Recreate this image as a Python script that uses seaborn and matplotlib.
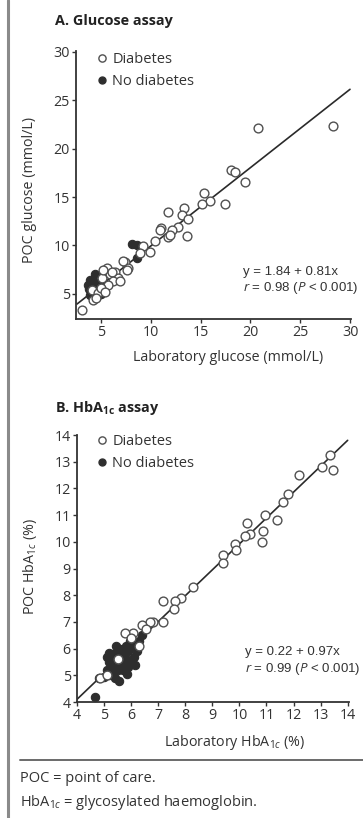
import matplotlib
matplotlib.use("Agg")
import matplotlib.pyplot as plt
from matplotlib.lines import Line2D
import seaborn as sns
import pandas as pd
import numpy as np

sns.set_theme(style="white")
plt.rcParams['font.family'] = ['Open Sans', 'DejaVu Sans']
plt.rcParams['mathtext.fontset'] = 'custom'
plt.rcParams['mathtext.rm'] = 'Open Sans'
plt.rcParams['mathtext.it'] = 'Open Sans:italic'
plt.rcParams['mathtext.bf'] = 'Open Sans:bold'

# ---------------- Data: Panel A (glucose, mmol/L) ----------------
glu_diab_lab = [28.3, 20.8, 18.1, 18.5, 19.5, 15.3, 15.9, 15.1, 17.5, 13.3, 11.7, 13.1,
                13.7, 11.0, 12.7, 12.1, 11.7, 13.6, 10.4, 9.9, 9.2, 7.4, 7.7, 5.6,
                6.4, 5.9, 6.7, 5.1, 3.1, 4.2, 5.2, 6.1, 6.2, 5.7, 6.9, 7.6, 7.2,
                4.1, 4.7, 10.9, 11.9, 8.9, 5.0, 5.4, 4.5]
glu_diab_poc = [22.3, 22.1, 17.8, 17.6, 16.6, 15.4, 14.6, 14.3, 14.3, 13.9, 13.5, 13.1,
                12.7, 11.8, 11.9, 11.6, 10.9, 11.0, 10.5, 9.3, 9.9, 8.3, 7.7, 7.7,
                7.3, 7.0, 6.6, 6.6, 3.35, 4.4, 7.5, 7.3, 6.3, 5.9, 6.3, 7.5, 8.35,
                5.4, 5.1, 11.6, 11.1, 9.2, 5.6, 5.2, 4.6]
glu_nodiab_lab = [4.4, 3.9, 3.7, 4.1, 4.4, 4.8, 4.0, 4.5, 3.9, 4.3, 4.7, 5.0, 4.2, 4.6,
                  3.8, 8.1, 8.6, 8.6, 5.2, 4.9]
glu_nodiab_poc = [7.1, 6.45, 5.9, 6.0, 5.7, 5.5, 5.3, 5.2, 4.9, 4.8, 4.9, 5.0, 6.3, 6.1,
                  5.5, 10.2, 10.1, 8.7, 5.3, 5.9]
glu_fit = (1.84, 0.81)          # intercept, slope
glu_fit_range = [2.6, 30.0]
glu_xticks = [5, 10, 15, 20, 25, 30]
glu_yticks = [5, 10, 15, 20, 25, 30]

# ---------------- Data: Panel B (HbA1c, %) ----------------
hba_diab_lab = [13.33, 13.04, 13.45, 12.2, 11.8, 11.6, 10.95, 11.4, 10.27, 10.86, 10.4,
                10.2, 10.83, 9.83, 9.87, 9.4, 9.4, 8.28, 7.84, 7.62, 7.17, 7.58, 6.8,
                7.17, 6.7, 6.4, 6.07, 5.77, 6.0, 6.3, 5.5, 4.85, 5.1, 6.55]
hba_diab_poc = [13.25, 12.8, 12.7, 12.5, 11.8, 11.5, 11.0, 10.8, 10.7, 10.4, 10.3,
                10.2, 10.0, 9.9, 9.7, 9.5, 9.2, 8.3, 7.9, 7.8, 7.8, 7.5, 7.0,
                7.0, 7.0, 6.9, 6.6, 6.6, 6.4, 6.1, 5.6, 4.9, 5.0, 6.75]
hba_nodiab_lab = [4.66, 4.8, 5.0, 5.2, 5.4, 5.55, 5.1, 5.3, 5.2, 5.1, 5.3, 5.4, 5.5, 5.6,
                  5.7, 5.8, 5.9, 6.0, 5.8, 5.6, 5.7, 5.9, 6.0, 6.1, 6.2, 5.3, 5.5, 5.85,
                  6.1, 5.45, 6.3, 5.95, 5.2, 6.15, 5.75, 6.4]
hba_nodiab_poc = [4.2, 4.9, 4.95, 5.0, 4.9, 4.8, 5.2, 5.3, 5.5, 5.7, 5.8, 5.6, 5.9, 6.0,
                  5.8, 5.6, 5.9, 6.05, 6.1, 5.4, 5.2, 5.3, 5.5, 5.7, 5.9, 5.1, 5.2, 5.05,
                  6.2, 6.1, 6.3, 6.3, 5.85, 5.4, 5.5, 6.5]
hba_fit = (0.22, 0.97)
hba_fit_range = [4.0, 14.0]
hba_xticks = [4, 5, 6, 7, 8, 9, 10, 11, 12, 13, 14]
hba_yticks = [4, 5, 6, 7, 8, 9, 10, 11, 12, 13, 14]

W, H = 363, 818
fig = plt.figure(figsize=(W / 100, H / 100), dpi=100)

def fx(px):
    return px / W

def fy(py):
    return 1 - py / H

INK = '#333333'
EDGE = '#505050'
DARK = '#2e2e2e'

def make_panel(rect, dl, dp, nl, np_, fit, fit_rng, xlim, ylim, xt, yt):
    ax = fig.add_axes(rect)
    dfd = pd.DataFrame({'lab': dl, 'poc': dp})
    dfn = pd.DataFrame({'lab': nl, 'poc': np_})
    xs = np.array(fit_rng)
    dff = pd.DataFrame({'x': xs, 'y': fit[0] + fit[1] * xs})
    sns.lineplot(data=dff, x='x', y='y', ax=ax, color='#2a2a2a', lw=1.2, zorder=1)
    sns.scatterplot(data=dfd, x='lab', y='poc', ax=ax, s=40, facecolor='white',
                    edgecolor=EDGE, linewidth=1.0, zorder=3)
    sns.scatterplot(data=dfn, x='lab', y='poc', ax=ax, s=36, color=DARK,
                    edgecolor=DARK, linewidth=0.8, zorder=2)
    ax.set_xlim(*xlim)
    ax.set_ylim(*ylim)
    ax.set_xticks(xt)
    ax.set_yticks(yt)
    ax.set_xlabel('')
    ax.set_ylabel('')
    for s in ['top', 'right']:
        ax.spines[s].set_visible(False)
    for s in ['left', 'bottom']:
        ax.spines[s].set_color(INK)
        ax.spines[s].set_linewidth(1.3)
    ax.tick_params(axis='both', direction='out', length=3, width=1.0, color=INK,
                   labelsize=10.3, labelcolor=INK, pad=1.5, left=True, bottom=True)
    ax.set_facecolor('none')
    return ax

axA = make_panel([fx(76), fy(319), (351 - 76) / W, (319 - 51) / H],
                 glu_diab_lab, glu_diab_poc, glu_nodiab_lab, glu_nodiab_poc,
                 glu_fit, glu_fit_range, (2.5, 30.1), (2.4, 30.1),
                 glu_xticks, glu_yticks)
axB = make_panel([fx(77), fy(702), (349 - 77) / W, (702 - 435) / H],
                 hba_diab_lab, hba_diab_poc, hba_nodiab_lab, hba_nodiab_poc,
                 hba_fit, hba_fit_range, (4, 14.05), (4, 14.0),
                 hba_xticks, hba_yticks)

# Legends (figure-anchored)
for ax, top in ((axA, 52), (axB, 434)):
    handles = [Line2D([], [], marker='o', ls='', ms=5.2, mfc='white', mec=EDGE, mew=1.0),
               Line2D([], [], marker='o', ls='', ms=5.0, mfc=DARK, mec=DARK)]
    ax.legend(handles, ['Diabetes', 'No diabetes'], loc='upper left',
              bbox_to_anchor=(fx(95), fy(top)), bbox_transform=fig.transFigure,
              frameon=False, fontsize=10.5, handletextpad=0.2, borderaxespad=0,
              borderpad=0, labelspacing=0.48, handlelength=1.0, labelcolor=INK)

# Titles
fig.text(fx(55), fy(21), 'A. Glucose assay', fontsize=10.4, fontweight='bold',
         color='#222222', va='center', ha='left')
fig.text(fx(55), fy(408), r'B. HbA$_\mathbf{1c}$ assay', fontsize=10.4, fontweight='bold',
         color='#222222', va='center', ha='left')

# Axis labels
fig.text(fx(30), fy(190), 'POC glucose (mmol/L)', rotation=90, fontsize=10.3,
         color=INK, va='center', ha='center')
fig.text(fx(228), fy(358), 'Laboratory glucose (mmol/L)', fontsize=10.3,
         color=INK, va='center', ha='center')
fig.text(fx(30), fy(567), r'POC HbA$_{1c}$ (%)', rotation=90, fontsize=10.3,
         color=INK, va='center', ha='center')
fig.text(fx(235), fy(742), r'Laboratory HbA$_{1c}$ (%)', fontsize=10.3,
         color=INK, va='center', ha='center')

# Regression annotations
fig.text(fx(243), fy(272), 'y = 1.84 + 0.81x', fontsize=9.5, color=INK,
         va='center', ha='left', family='Liberation Sans')
fig.text(fx(243), fy(288), r'$r$ = 0.98 ($P$ < 0.001)', fontsize=9.5, color=INK,
         va='center', ha='left', family='Liberation Sans')
fig.text(fx(245), fy(652), 'y = 0.22 + 0.97x', fontsize=9.5, color=INK,
         va='center', ha='left', family='Liberation Sans')
fig.text(fx(245), fy(669), r'$r$ = 0.99 ($P$ < 0.001)', fontsize=9.5, color=INK,
         va='center', ha='left', family='Liberation Sans')

# Footnotes
fig.text(fx(20), fy(778), 'POC = point of care.', fontsize=10.5, color=INK,
         va='center', ha='left')
fig.text(fx(20), fy(802), r'HbA$_{1c}$ = glycosylated haemoglobin.', fontsize=10.5,
         color=INK, va='center', ha='left')

# Frame lines
fig.add_artist(Line2D([fx(20), 1.0], [fy(760), fy(760)], color='#6a6a6a', lw=1.4))
fig.add_artist(Line2D([fx(7.5), fx(7.5)], [0, 1], color='#8a8a8a', lw=2.2))

fig.savefig('out.png', dpi=100, facecolor='white')
